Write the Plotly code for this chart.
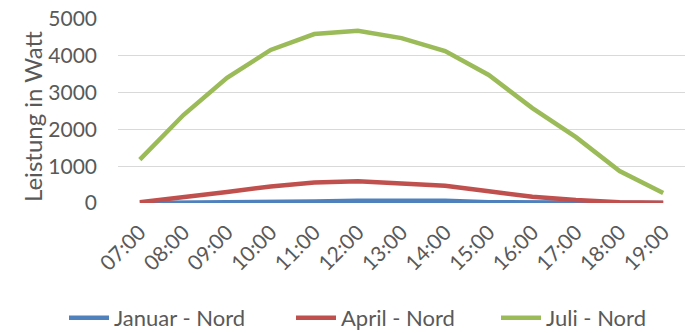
import plotly.graph_objects as go

hours = ["07:00", "08:00", "09:00", "10:00", "11:00", "12:00", "13:00",
         "14:00", "15:00", "16:00", "17:00", "18:00", "19:00"]
januar = [0, 5, 10, 20, 40, 60, 70, 60, 20, 10, 5, 0, 0]
april = [20, 150, 300, 450, 560, 590, 520, 470, 320, 170, 80, 20, 10]
juli = [1180, 2390, 3400, 4160, 4590, 4680, 4480, 4130, 3480, 2580, 1790, 870, 270]

series = [("Januar - Nord", januar, "#4f81bd"),
          ("April - Nord", april, "#c0504d"),
          ("Juli - Nord", juli, "#9bbb59")]

FONT = "Lato, Liberation Sans, sans-serif"
TXT = "#595959"
L, R, T, B = 118, 6, 19, 130
W, H = 691, 333
pw, ph = W - L - R, H - T - B

legend_names = ["legend", "legend2", "legend3"]
legend_left_px = [64, 291, 496]

fig = go.Figure()
for (name, vals, col), lg in zip(series, legend_names):
    fig.add_trace(go.Scatter(x=hours, y=vals, name=name, mode="lines",
                             legend=lg, line=dict(color=col, width=4.5)))

legend_style = {}
for lg, px in zip(legend_names, legend_left_px):
    legend_style[lg] = dict(orientation="h", x=(px - L) / pw, xanchor="left",
                            y=(T + ph - 318) / ph, yanchor="middle",
                            font=dict(size=22, color=TXT), itemwidth=40,
                            bgcolor="rgba(0,0,0,0)")

fig.update_layout(
    width=W, height=H,
    margin=dict(l=L, r=R, t=T, b=B, autoexpand=False),
    paper_bgcolor="white", plot_bgcolor="white",
    font=dict(family=FONT, size=21, color=TXT),
    showlegend=True,
    xaxis=dict(type="category", range=[-0.5, 12.5], tickangle=-45,
               showgrid=False, zeroline=False, automargin=False,
               showline=False, ticks="", tickfont=dict(size=21),
               ticklabelstandoff=12),
    yaxis=dict(range=[0, 5000], dtick=1000, showgrid=True, gridcolor="#d9d9d9",
               gridwidth=1.3, zeroline=False, showline=False, ticks="",
               automargin=False, tickfont=dict(size=21), ticklabelstandoff=20),
    annotations=[dict(text="Leistung in Watt", textangle=-90, showarrow=False,
                      xref="paper", yref="paper", x=(32 - L) / pw,
                      y=(T + ph - 116) / ph, xanchor="center", yanchor="middle",
                      font=dict(size=24, color=TXT, family=FONT))],
    **legend_style,
)
fig.write_html("out.html", config={"displayModeBar": False},
               post_script="document.body.style.margin='0';document.body.style.overflow='hidden';")
